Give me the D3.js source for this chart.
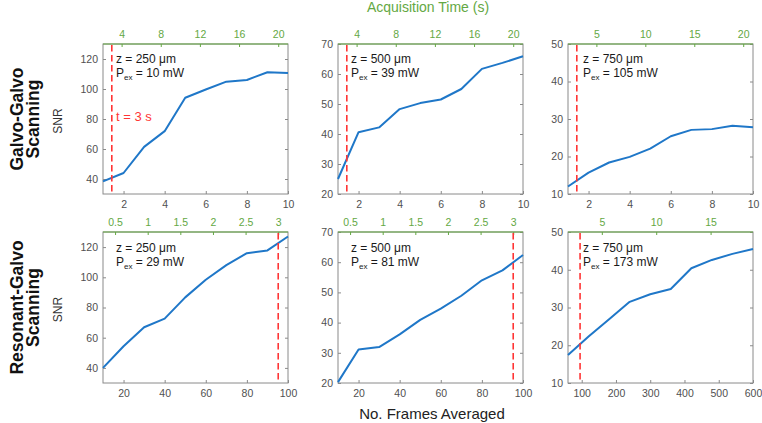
<!DOCTYPE html>
<html><head><meta charset="utf-8">
<script src="https://cdn.jsdelivr.net/npm/d3@7"></script>
<style>body{margin:0;background:#fff}svg{display:block;font-family:"Liberation Sans",Arial,sans-serif}</style>
</head><body><svg id="c" width="762" height="423"></svg>
<script>
// ---- data ----
const framesGG = [1, 2, 3, 4, 5, 6, 7, 8, 9, 10];
const framesRG = [10, 20, 30, 40, 50, 60, 70, 80, 90, 100];
const framesRG750 = [60, 120, 180, 240, 300, 360, 420, 480, 540, 600];
const secondsPerFrameGG = 2.1;
const secondsPerFrameRG = 0.0315;
const markerTime = 3;
const depths = [250, 500, 750];
const powersGG = [10, 39, 105];
const powersRG = [29, 81, 173];
const snrGG250 = [38.4, 44, 61.4, 71.9, 94.2, 99.7, 104.9, 106, 111.2, 110.6];
const snrGG500 = [25, 40.6, 42.2, 48.3, 50.3, 51.5, 55, 61.7, 63.7, 65.9];
const snrGG750 = [12, 15.7, 18.4, 19.9, 22.1, 25.4, 27.1, 27.3, 28.2, 27.8];
const snrRG250 = [40, 54.3, 66.9, 72.6, 86.7, 98.4, 108.1, 116, 117.8, 127];
const snrRG500 = [20.3, 31.1, 31.9, 36.1, 40.9, 44.6, 48.9, 54, 57.3, 62.4];
const snrRG750 = [17.4, 22.3, 26.9, 31.5, 33.5, 34.9, 40.4, 42.6, 44.2, 45.5];
const yDomains = [[30, 130], [20, 70], [10, 50]];
const yTickValues = [[40, 60, 80, 100, 120], [20, 30, 40, 50, 60, 70], [10, 20, 30, 40, 50]];
const xTicksGG = [2, 4, 6, 8, 10];
const xTicksRG = [20, 40, 60, 80, 100];
const xTicksRG750 = [100, 200, 300, 400, 500, 600];
const timeTicksGG = [[4, 8, 12, 16, 20], [4, 8, 12, 16, 20], [5, 10, 15, 20]];
const timeTicksRG = [[0.5, 1, 1.5, 2, 2.5, 3], [0.5, 1, 1.5, 2, 2.5, 3], [5, 10, 15]];
const rowLabels = [["Galvo-Galvo", "Scanning"], ["Resonant-Galvo", "Scanning"]];

// ---- layout / style ----
const svg = d3.select("#c");
const colLeft = [103, 338, 568], panelW = 185;
const rowTop = [44, 232], rowH = [150, 151];
const green = "#64a843", boxCol = "#8a8a8a", tickTxt = "#505050";
const blue = "#1f77c8", red = "#ff3535";

const rows = [
  {frames: [framesGG, framesGG, framesGG], snr: [snrGG250, snrGG500, snrGG750], spf: secondsPerFrameGG,
   xTicks: [xTicksGG, xTicksGG, xTicksGG], tTicks: timeTicksGG, powers: powersGG},
  {frames: [framesRG, framesRG, framesRG750], snr: [snrRG250, snrRG500, snrRG750], spf: secondsPerFrameRG,
   xTicks: [xTicksRG, xTicksRG, xTicksRG750], tTicks: timeTicksRG, powers: powersRG}
];

rows.forEach((row, r) => {
  for (let c = 0; c < 3; c++) {
    const frames = row.frames[c], vals = row.snr[c];
    const x = d3.scaleLinear().domain(d3.extent(frames)).range([0, panelW]);
    const xt = d3.scaleLinear().domain(x.domain().map(d => d * row.spf)).range([0, panelW]);
    const y = d3.scaleLinear().domain(yDomains[c]).range([rowH[r], 0]);
    const g = svg.append("g").attr("transform", `translate(${colLeft[c]},${rowTop[r]})`);

    g.append("rect").attr("width", panelW).attr("height", rowH[r])
      .attr("fill", "#fff").attr("stroke", boxCol).attr("stroke-width", 1);

    const fmt = d => String(d);
    const ax = g.append("g").attr("transform", `translate(0,${rowH[r]})`)
      .call(d3.axisBottom(x).tickValues(row.xTicks[c]).tickSize(-3).tickPadding(7).tickFormat(fmt));
    const ay = g.append("g")
      .call(d3.axisLeft(y).tickValues(yTickValues[c]).tickSize(-3).tickPadding(5).tickFormat(fmt));
    const ayr = g.append("g").attr("transform", `translate(${panelW},0)`)
      .call(d3.axisRight(y).tickValues(yTickValues[c]).tickSize(-3).tickFormat(""));
    const at = g.append("g")
      .call(d3.axisTop(xt).tickValues(row.tTicks[c]).tickSize(-3).tickPadding(6).tickFormat(fmt));
    [ax, ay, ayr, at].forEach(a => {
      a.select(".domain").remove();
      a.selectAll("text").attr("font-size", 10.5).attr("font-family", "Liberation Sans, Arial, sans-serif");
    });
    [ax, ay, ayr].forEach(a => {
      a.selectAll("line").attr("stroke", boxCol);
      a.selectAll("text").attr("fill", tickTxt);
    });
    at.selectAll("line").attr("stroke", green);
    at.selectAll("text").attr("fill", green);
    g.append("line").attr("x1", 0).attr("x2", panelW).attr("y1", 0).attr("y2", 0)
      .attr("stroke", green).attr("stroke-width", 1.2);

    // data line
    const line = d3.line().x(d => x(d[0])).y(d => y(d[1]));
    g.append("path").datum(frames.map((f, i) => [f, vals[i]]))
      .attr("d", line).attr("fill", "none").attr("stroke", blue).attr("stroke-width", 2)
      .attr("stroke-linejoin", "round");

    // marker line at t = 3 s
    const xm = xt(markerTime);
    g.append("line").attr("x1", xm).attr("x2", xm).attr("y1", 1).attr("y2", rowH[r])
      .attr("stroke", red).attr("stroke-width", 1.6).attr("stroke-dasharray", "6.5,3.5");

    // annotations
    const ty = r === 0 ? 19 : 20;
    const tx = c === 2 ? 15 : 13;
    g.append("text").attr("x", tx).attr("y", ty).attr("font-size", 12).attr("fill", "#1a1a1a")
      .text(`z = ${depths[c]} μm`);
    const t2 = g.append("text").attr("x", tx).attr("y", ty + 14).attr("font-size", 12).attr("fill", "#1a1a1a");
    t2.append("tspan").text("P");
    t2.append("tspan").attr("font-size", 8).attr("dy", 3).text("ex");
    t2.append("tspan").attr("dy", -3).text(` = ${row.powers[c]} mW`);
    if (r === 0 && c === 0) {
      g.append("text").attr("x", tx).attr("y", 77).attr("font-size", 13).attr("fill", red)
        .text(`t = ${markerTime} s`);
    }
  }
  // row labels
  const cy = rowTop[r] + rowH[r] / 2;
  [[23, rowLabels[r][0]], [39, rowLabels[r][1]]].forEach(([bx, txt]) => {
    svg.append("text").attr("transform", `translate(${bx},${cy}) rotate(-90)`)
      .attr("text-anchor", "middle").attr("font-size", 17.5).attr("font-weight", "bold")
      .attr("fill", "#111").text(txt);
  });
  svg.append("text").attr("transform", `translate(62,${cy + 2}) rotate(-90)`)
    .attr("text-anchor", "middle").attr("font-size", 12).attr("fill", "#333").text("SNR");
});

svg.append("text").attr("x", 428).attr("y", 12).attr("text-anchor", "middle")
  .attr("font-size", 14).attr("fill", green).text("Acquisition Time (s)");
svg.append("text").attr("x", 432).attr("y", 419).attr("text-anchor", "middle")
  .attr("font-size", 15).attr("fill", "#222").text("No. Frames Averaged");
</script></body></html>
